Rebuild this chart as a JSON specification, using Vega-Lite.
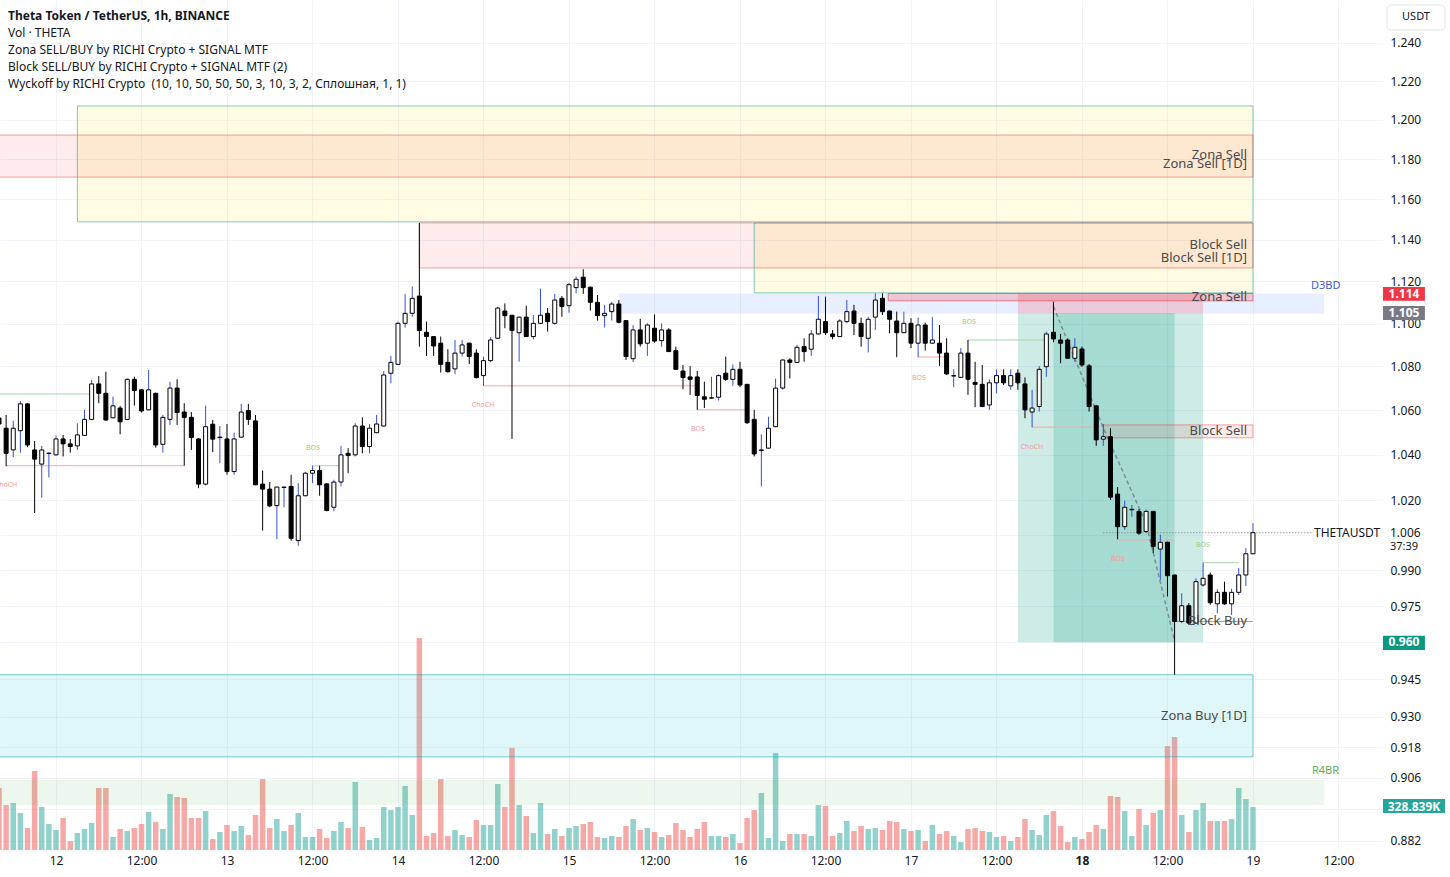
{
  "$schema": "https://vega.github.io/schema/vega-lite/v6.json",
  "width": 1383,
  "height": 850,
  "autosize": {"type": "none"},
  "padding": {"left": 0, "top": 0, "right": 67, "bottom": 27},
  "background": "#ffffff",
  "config": {"font": "Noto Sans", "view": {"stroke": null}, "axis": {"labelFont": "Noto Sans"}},
  "datasets": {
    "candles": [
      {"t":"2024-01-11T16:00Z","o":1.0565,"hi":1.0580,"lo":1.0520,"c":1.0538,"v":474100},
      {"t":"2024-01-11T17:00Z","o":1.0519,"hi":1.0579,"lo":1.0349,"c":1.0407,"v":344100},
      {"t":"2024-01-11T18:00Z","o":1.0422,"hi":1.0553,"lo":1.0390,"c":1.0519,"v":359400},
      {"t":"2024-01-11T19:00Z","o":1.0508,"hi":1.0642,"lo":1.0410,"c":1.0629,"v":282900},
      {"t":"2024-01-11T20:00Z","o":1.0629,"hi":1.0632,"lo":1.0434,"c":1.0444,"v":168200},
      {"t":"2024-01-11T21:00Z","o":1.0422,"hi":1.0462,"lo":1.0145,"c":1.0381,"v":604100},
      {"t":"2024-01-11T22:00Z","o":1.0359,"hi":1.0440,"lo":1.0212,"c":1.0422,"v":328800},
      {"t":"2024-01-11T23:00Z","o":1.0406,"hi":1.0410,"lo":1.0300,"c":1.0408,"v":198800},
      {"t":"2024-01-12T00:00Z","o":1.0400,"hi":1.0486,"lo":1.0397,"c":1.0471,"v":152900},
      {"t":"2024-01-12T01:00Z","o":1.0471,"hi":1.0489,"lo":1.0393,"c":1.0449,"v":244700},
      {"t":"2024-01-12T02:00Z","o":1.0449,"hi":1.0470,"lo":1.0410,"c":1.0437,"v":68800},
      {"t":"2024-01-12T03:00Z","o":1.0440,"hi":1.0541,"lo":1.0422,"c":1.0489,"v":130000},
      {"t":"2024-01-12T04:00Z","o":1.0487,"hi":1.0602,"lo":1.0485,"c":1.0559,"v":160600},
      {"t":"2024-01-12T05:00Z","o":1.0559,"hi":1.0738,"lo":1.0555,"c":1.0720,"v":206500},
      {"t":"2024-01-12T06:00Z","o":1.0720,"hi":1.0756,"lo":1.0632,"c":1.0677,"v":474100},
      {"t":"2024-01-12T07:00Z","o":1.0677,"hi":1.0776,"lo":1.0553,"c":1.0556,"v":474100},
      {"t":"2024-01-12T08:00Z","o":1.0566,"hi":1.0662,"lo":1.0563,"c":1.0620,"v":99400},
      {"t":"2024-01-12T09:00Z","o":1.0610,"hi":1.0620,"lo":1.0492,"c":1.0548,"v":160600},
      {"t":"2024-01-12T10:00Z","o":1.0559,"hi":1.0745,"lo":1.0555,"c":1.0741,"v":145300},
      {"t":"2024-01-12T11:00Z","o":1.0741,"hi":1.0753,"lo":1.0621,"c":1.0690,"v":168200},
      {"t":"2024-01-12T12:00Z","o":1.0693,"hi":1.0695,"lo":1.0590,"c":1.0597,"v":198800},
      {"t":"2024-01-12T13:00Z","o":1.0602,"hi":1.0784,"lo":1.0600,"c":1.0693,"v":290600},
      {"t":"2024-01-12T14:00Z","o":1.0677,"hi":1.0680,"lo":1.0432,"c":1.0444,"v":214100},
      {"t":"2024-01-12T15:00Z","o":1.0447,"hi":1.0579,"lo":1.0410,"c":1.0568,"v":160600},
      {"t":"2024-01-12T16:00Z","o":1.0559,"hi":1.0730,"lo":1.0534,"c":1.0701,"v":428200},
      {"t":"2024-01-12T17:00Z","o":1.0701,"hi":1.0741,"lo":1.0534,"c":1.0590,"v":405300},
      {"t":"2024-01-12T18:00Z","o":1.0592,"hi":1.0632,"lo":1.0352,"c":1.0568,"v":397600},
      {"t":"2024-01-12T19:00Z","o":1.0568,"hi":1.0592,"lo":1.0422,"c":1.0477,"v":244700},
      {"t":"2024-01-12T20:00Z","o":1.0471,"hi":1.0475,"lo":1.0253,"c":1.0271,"v":244700},
      {"t":"2024-01-12T21:00Z","o":1.0271,"hi":1.0621,"lo":1.0265,"c":1.0526,"v":298200},
      {"t":"2024-01-12T22:00Z","o":1.0537,"hi":1.0556,"lo":1.0412,"c":1.0470,"v":84100},
      {"t":"2024-01-12T23:00Z","o":1.0477,"hi":1.0529,"lo":1.0363,"c":1.0479,"v":137600},
      {"t":"2024-01-13T00:00Z","o":1.0471,"hi":1.0538,"lo":1.0312,"c":1.0326,"v":191200},
      {"t":"2024-01-13T01:00Z","o":1.0326,"hi":1.0499,"lo":1.0312,"c":1.0471,"v":145300},
      {"t":"2024-01-13T02:00Z","o":1.0479,"hi":1.0629,"lo":1.0477,"c":1.0592,"v":183500},
      {"t":"2024-01-13T03:00Z","o":1.0599,"hi":1.0629,"lo":1.0534,"c":1.0559,"v":114700},
      {"t":"2024-01-13T04:00Z","o":1.0552,"hi":1.0579,"lo":1.0266,"c":1.0268,"v":267600},
      {"t":"2024-01-13T05:00Z","o":1.0271,"hi":1.0331,"lo":1.0069,"c":1.0249,"v":542900},
      {"t":"2024-01-13T06:00Z","o":1.0249,"hi":1.0280,"lo":1.0170,"c":1.0176,"v":168200},
      {"t":"2024-01-13T07:00Z","o":1.0177,"hi":1.0260,"lo":1.0032,"c":1.0258,"v":237100},
      {"t":"2024-01-13T08:00Z","o":1.0256,"hi":1.0260,"lo":1.0170,"c":1.0258,"v":145300},
      {"t":"2024-01-13T09:00Z","o":1.0261,"hi":1.0312,"lo":1.0026,"c":1.0036,"v":191200},
      {"t":"2024-01-13T10:00Z","o":1.0026,"hi":1.0275,"lo":1.0004,"c":1.0220,"v":282900},
      {"t":"2024-01-13T11:00Z","o":1.0220,"hi":1.0326,"lo":1.0218,"c":1.0319,"v":99400},
      {"t":"2024-01-13T12:00Z","o":1.0319,"hi":1.0352,"lo":1.0275,"c":1.0331,"v":99400},
      {"t":"2024-01-13T13:00Z","o":1.0331,"hi":1.0352,"lo":1.0220,"c":1.0268,"v":160600},
      {"t":"2024-01-13T14:00Z","o":1.0272,"hi":1.0275,"lo":1.0152,"c":1.0156,"v":91800},
      {"t":"2024-01-13T15:00Z","o":1.0170,"hi":1.0290,"lo":1.0152,"c":1.0280,"v":145300},
      {"t":"2024-01-13T16:00Z","o":1.0280,"hi":1.0440,"lo":1.0261,"c":1.0400,"v":214100},
      {"t":"2024-01-13T17:00Z","o":1.0407,"hi":1.0430,"lo":1.0319,"c":1.0397,"v":168200},
      {"t":"2024-01-13T18:00Z","o":1.0400,"hi":1.0541,"lo":1.0393,"c":1.0529,"v":520000},
      {"t":"2024-01-13T19:00Z","o":1.0529,"hi":1.0568,"lo":1.0407,"c":1.0437,"v":175900},
      {"t":"2024-01-13T20:00Z","o":1.0437,"hi":1.0538,"lo":1.0407,"c":1.0519,"v":76500},
      {"t":"2024-01-13T21:00Z","o":1.0499,"hi":1.0579,"lo":1.0497,"c":1.0538,"v":91800},
      {"t":"2024-01-13T22:00Z","o":1.0529,"hi":1.0779,"lo":1.0526,"c":1.0761,"v":328800},
      {"t":"2024-01-13T23:00Z","o":1.0769,"hi":1.0849,"lo":1.0723,"c":1.0819,"v":305900},
      {"t":"2024-01-14T00:00Z","o":1.0810,"hi":1.1009,"lo":1.0807,"c":1.1001,"v":328800},
      {"t":"2024-01-14T01:00Z","o":1.1001,"hi":1.1140,"lo":1.0981,"c":1.1048,"v":489400},
      {"t":"2024-01-14T02:00Z","o":1.1048,"hi":1.1175,"lo":1.1032,"c":1.1119,"v":267600},
      {"t":"2024-01-14T03:00Z","o":1.1130,"hi":1.1483,"lo":1.0892,"c":1.0967,"v":1621200},
      {"t":"2024-01-14T04:00Z","o":1.0959,"hi":1.1009,"lo":1.0849,"c":1.0939,"v":107100},
      {"t":"2024-01-14T05:00Z","o":1.0939,"hi":1.0940,"lo":1.0849,"c":1.0895,"v":130000},
      {"t":"2024-01-14T06:00Z","o":1.0908,"hi":1.0939,"lo":1.0772,"c":1.0810,"v":542900},
      {"t":"2024-01-14T07:00Z","o":1.0819,"hi":1.0880,"lo":1.0772,"c":1.0776,"v":107100},
      {"t":"2024-01-14T08:00Z","o":1.0789,"hi":1.0923,"lo":1.0764,"c":1.0862,"v":152900},
      {"t":"2024-01-14T09:00Z","o":1.0862,"hi":1.0923,"lo":1.0846,"c":1.0900,"v":114700},
      {"t":"2024-01-14T10:00Z","o":1.0908,"hi":1.0910,"lo":1.0811,"c":1.0846,"v":99400},
      {"t":"2024-01-14T11:00Z","o":1.0862,"hi":1.0880,"lo":1.0745,"c":1.0749,"v":229400},
      {"t":"2024-01-14T12:00Z","o":1.0758,"hi":1.0846,"lo":1.0711,"c":1.0827,"v":191200},
      {"t":"2024-01-14T13:00Z","o":1.0827,"hi":1.0936,"lo":1.0820,"c":1.0923,"v":191200},
      {"t":"2024-01-14T14:00Z","o":1.0931,"hi":1.1078,"lo":1.0928,"c":1.1073,"v":504700},
      {"t":"2024-01-14T15:00Z","o":1.1059,"hi":1.1095,"lo":1.0978,"c":1.1037,"v":328800},
      {"t":"2024-01-14T16:00Z","o":1.1039,"hi":1.1040,"lo":1.0471,"c":1.0967,"v":780000},
      {"t":"2024-01-14T17:00Z","o":1.0957,"hi":1.1032,"lo":1.0822,"c":1.1030,"v":344100},
      {"t":"2024-01-14T18:00Z","o":1.1030,"hi":1.1084,"lo":1.0936,"c":1.0939,"v":260000},
      {"t":"2024-01-14T19:00Z","o":1.0939,"hi":1.1040,"lo":1.0926,"c":1.1001,"v":130000},
      {"t":"2024-01-14T20:00Z","o":1.1001,"hi":1.1165,"lo":1.1000,"c":1.1039,"v":359400},
      {"t":"2024-01-14T21:00Z","o":1.1048,"hi":1.1073,"lo":1.0962,"c":1.1009,"v":122400},
      {"t":"2024-01-14T22:00Z","o":1.1001,"hi":1.1140,"lo":1.0995,"c":1.1111,"v":160600},
      {"t":"2024-01-14T23:00Z","o":1.1119,"hi":1.1130,"lo":1.1032,"c":1.1080,"v":107100},
      {"t":"2024-01-15T00:00Z","o":1.1084,"hi":1.1193,"lo":1.1051,"c":1.1184,"v":168200},
      {"t":"2024-01-15T01:00Z","o":1.1170,"hi":1.1223,"lo":1.1143,"c":1.1210,"v":183500},
      {"t":"2024-01-15T02:00Z","o":1.1220,"hi":1.1258,"lo":1.1140,"c":1.1170,"v":198800},
      {"t":"2024-01-15T03:00Z","o":1.1172,"hi":1.1175,"lo":1.1061,"c":1.1100,"v":214100},
      {"t":"2024-01-15T04:00Z","o":1.1100,"hi":1.1135,"lo":1.1014,"c":1.1037,"v":99400},
      {"t":"2024-01-15T05:00Z","o":1.1037,"hi":1.1088,"lo":1.0981,"c":1.1048,"v":91800},
      {"t":"2024-01-15T06:00Z","o":1.1056,"hi":1.1103,"lo":1.1014,"c":1.1092,"v":107100},
      {"t":"2024-01-15T07:00Z","o":1.1092,"hi":1.1111,"lo":1.1001,"c":1.1006,"v":99400},
      {"t":"2024-01-15T08:00Z","o":1.1014,"hi":1.1014,"lo":1.0830,"c":1.0846,"v":183500},
      {"t":"2024-01-15T09:00Z","o":1.0836,"hi":1.0992,"lo":1.0820,"c":1.0970,"v":237100},
      {"t":"2024-01-15T10:00Z","o":1.0970,"hi":1.1022,"lo":1.0892,"c":1.0905,"v":152900},
      {"t":"2024-01-15T11:00Z","o":1.0908,"hi":1.1001,"lo":1.0849,"c":1.0993,"v":168200},
      {"t":"2024-01-15T12:00Z","o":1.0978,"hi":1.1043,"lo":1.0910,"c":1.0918,"v":137600},
      {"t":"2024-01-15T13:00Z","o":1.0920,"hi":1.1001,"lo":1.0892,"c":1.0970,"v":99400},
      {"t":"2024-01-15T14:00Z","o":1.0970,"hi":1.0978,"lo":1.0867,"c":1.0869,"v":114700},
      {"t":"2024-01-15T15:00Z","o":1.0874,"hi":1.0892,"lo":1.0784,"c":1.0787,"v":206500},
      {"t":"2024-01-15T16:00Z","o":1.0779,"hi":1.0807,"lo":1.0696,"c":1.0749,"v":152900},
      {"t":"2024-01-15T17:00Z","o":1.0752,"hi":1.0802,"lo":1.0670,"c":1.0741,"v":99400},
      {"t":"2024-01-15T18:00Z","o":1.0752,"hi":1.0779,"lo":1.0602,"c":1.0667,"v":160600},
      {"t":"2024-01-15T19:00Z","o":1.0661,"hi":1.0730,"lo":1.0610,"c":1.0650,"v":214100},
      {"t":"2024-01-15T20:00Z","o":1.0655,"hi":1.0753,"lo":1.0653,"c":1.0657,"v":107100},
      {"t":"2024-01-15T21:00Z","o":1.0659,"hi":1.0764,"lo":1.0644,"c":1.0758,"v":107100},
      {"t":"2024-01-15T22:00Z","o":1.0769,"hi":1.0846,"lo":1.0734,"c":1.0741,"v":99400},
      {"t":"2024-01-15T23:00Z","o":1.0741,"hi":1.0810,"lo":1.0711,"c":1.0787,"v":122400},
      {"t":"2024-01-16T00:00Z","o":1.0787,"hi":1.0822,"lo":1.0705,"c":1.0715,"v":53500},
      {"t":"2024-01-16T01:00Z","o":1.0718,"hi":1.0720,"lo":1.0538,"c":1.0544,"v":244700},
      {"t":"2024-01-16T02:00Z","o":1.0559,"hi":1.0602,"lo":1.0393,"c":1.0404,"v":305900},
      {"t":"2024-01-16T03:00Z","o":1.0420,"hi":1.0492,"lo":1.0261,"c":1.0422,"v":435900},
      {"t":"2024-01-16T04:00Z","o":1.0430,"hi":1.0571,"lo":1.0428,"c":1.0519,"v":91800},
      {"t":"2024-01-16T05:00Z","o":1.0526,"hi":1.0745,"lo":1.0524,"c":1.0701,"v":741800},
      {"t":"2024-01-16T06:00Z","o":1.0701,"hi":1.0833,"lo":1.0693,"c":1.0830,"v":68800},
      {"t":"2024-01-16T07:00Z","o":1.0830,"hi":1.0838,"lo":1.0745,"c":1.0819,"v":122400},
      {"t":"2024-01-16T08:00Z","o":1.0819,"hi":1.0900,"lo":1.0817,"c":1.0889,"v":122400},
      {"t":"2024-01-16T09:00Z","o":1.0892,"hi":1.0931,"lo":1.0822,"c":1.0869,"v":122400},
      {"t":"2024-01-16T10:00Z","o":1.0880,"hi":1.0970,"lo":1.0849,"c":1.0951,"v":107100},
      {"t":"2024-01-16T11:00Z","o":1.0951,"hi":1.1130,"lo":1.0948,"c":1.1020,"v":344100},
      {"t":"2024-01-16T12:00Z","o":1.1009,"hi":1.1127,"lo":1.0946,"c":1.0957,"v":336500},
      {"t":"2024-01-16T13:00Z","o":1.0951,"hi":1.0970,"lo":1.0926,"c":1.0939,"v":107100},
      {"t":"2024-01-16T14:00Z","o":1.0939,"hi":1.1020,"lo":1.0937,"c":1.1012,"v":130000},
      {"t":"2024-01-16T15:00Z","o":1.1009,"hi":1.1111,"lo":1.1001,"c":1.1056,"v":221800},
      {"t":"2024-01-16T16:00Z","o":1.1059,"hi":1.1088,"lo":1.0946,"c":1.1001,"v":145300},
      {"t":"2024-01-16T17:00Z","o":1.1001,"hi":1.1028,"lo":1.0892,"c":1.0939,"v":183500},
      {"t":"2024-01-16T18:00Z","o":1.0931,"hi":1.1032,"lo":1.0865,"c":1.1020,"v":160600},
      {"t":"2024-01-16T19:00Z","o":1.1030,"hi":1.1143,"lo":1.0970,"c":1.1111,"v":168200},
      {"t":"2024-01-16T20:00Z","o":1.1119,"hi":1.1143,"lo":1.1040,"c":1.1056,"v":152900},
      {"t":"2024-01-16T21:00Z","o":1.1059,"hi":1.1060,"lo":1.0954,"c":1.1020,"v":221800},
      {"t":"2024-01-16T22:00Z","o":1.1012,"hi":1.1056,"lo":1.0843,"c":1.0957,"v":214100},
      {"t":"2024-01-16T23:00Z","o":1.0957,"hi":1.1056,"lo":1.0955,"c":1.1001,"v":160600},
      {"t":"2024-01-17T00:00Z","o":1.1001,"hi":1.1025,"lo":1.0885,"c":1.0908,"v":145300},
      {"t":"2024-01-17T01:00Z","o":1.0908,"hi":1.1028,"lo":1.0843,"c":1.0993,"v":152900},
      {"t":"2024-01-17T02:00Z","o":1.0993,"hi":1.1004,"lo":1.0874,"c":1.0908,"v":68800},
      {"t":"2024-01-17T03:00Z","o":1.0908,"hi":1.1030,"lo":1.0906,"c":1.0923,"v":191200},
      {"t":"2024-01-17T04:00Z","o":1.0908,"hi":1.0993,"lo":1.0802,"c":1.0862,"v":122400},
      {"t":"2024-01-17T05:00Z","o":1.0862,"hi":1.0931,"lo":1.0761,"c":1.0766,"v":145300},
      {"t":"2024-01-17T06:00Z","o":1.0756,"hi":1.0787,"lo":1.0705,"c":1.0758,"v":107100},
      {"t":"2024-01-17T07:00Z","o":1.0750,"hi":1.0885,"lo":1.0748,"c":1.0862,"v":61200},
      {"t":"2024-01-17T08:00Z","o":1.0862,"hi":1.0923,"lo":1.0670,"c":1.0741,"v":160600},
      {"t":"2024-01-17T09:00Z","o":1.0727,"hi":1.0822,"lo":1.0614,"c":1.0718,"v":168200},
      {"t":"2024-01-17T10:00Z","o":1.0718,"hi":1.0807,"lo":1.0614,"c":1.0617,"v":145300},
      {"t":"2024-01-17T11:00Z","o":1.0624,"hi":1.0741,"lo":1.0602,"c":1.0725,"v":137600},
      {"t":"2024-01-17T12:00Z","o":1.0725,"hi":1.0787,"lo":1.0677,"c":1.0758,"v":99400},
      {"t":"2024-01-17T13:00Z","o":1.0758,"hi":1.0787,"lo":1.0715,"c":1.0725,"v":107100},
      {"t":"2024-01-17T14:00Z","o":1.0711,"hi":1.0787,"lo":1.0693,"c":1.0758,"v":68800},
      {"t":"2024-01-17T15:00Z","o":1.0769,"hi":1.0787,"lo":1.0693,"c":1.0725,"v":99400},
      {"t":"2024-01-17T16:00Z","o":1.0720,"hi":1.0750,"lo":1.0564,"c":1.0602,"v":237100},
      {"t":"2024-01-17T17:00Z","o":1.0592,"hi":1.0693,"lo":1.0523,"c":1.0610,"v":152900},
      {"t":"2024-01-17T18:00Z","o":1.0617,"hi":1.0802,"lo":1.0594,"c":1.0787,"v":114700},
      {"t":"2024-01-17T19:00Z","o":1.0799,"hi":1.0962,"lo":1.0753,"c":1.0951,"v":267600},
      {"t":"2024-01-17T20:00Z","o":1.0959,"hi":1.1103,"lo":1.0912,"c":1.0928,"v":298200},
      {"t":"2024-01-17T21:00Z","o":1.0923,"hi":1.0951,"lo":1.0815,"c":1.0908,"v":183500},
      {"t":"2024-01-17T22:00Z","o":1.0923,"hi":1.0931,"lo":1.0835,"c":1.0838,"v":61200},
      {"t":"2024-01-17T23:00Z","o":1.0838,"hi":1.0931,"lo":1.0822,"c":1.0889,"v":99400},
      {"t":"2024-01-18T00:00Z","o":1.0881,"hi":1.0892,"lo":1.0799,"c":1.0807,"v":84100},
      {"t":"2024-01-18T01:00Z","o":1.0803,"hi":1.0811,"lo":1.0594,"c":1.0617,"v":137600},
      {"t":"2024-01-18T02:00Z","o":1.0620,"hi":1.0622,"lo":1.0440,"c":1.0467,"v":191200},
      {"t":"2024-01-18T03:00Z","o":1.0470,"hi":1.0538,"lo":1.0440,"c":1.0481,"v":160600},
      {"t":"2024-01-18T04:00Z","o":1.0481,"hi":1.0519,"lo":1.0202,"c":1.0214,"v":412900},
      {"t":"2024-01-18T05:00Z","o":1.0227,"hi":1.0258,"lo":1.0032,"c":1.0086,"v":405300},
      {"t":"2024-01-18T06:00Z","o":1.0086,"hi":1.0199,"lo":1.0072,"c":1.0170,"v":298200},
      {"t":"2024-01-18T07:00Z","o":1.0159,"hi":1.0180,"lo":1.0129,"c":1.0161,"v":107100},
      {"t":"2024-01-18T08:00Z","o":1.0152,"hi":1.0162,"lo":1.0051,"c":1.0058,"v":313500},
      {"t":"2024-01-18T09:00Z","o":1.0065,"hi":1.0160,"lo":1.0058,"c":1.0152,"v":191200},
      {"t":"2024-01-18T10:00Z","o":1.0152,"hi":1.0153,"lo":0.9973,"c":1.0001,"v":282900},
      {"t":"2024-01-18T11:00Z","o":0.9990,"hi":1.0051,"lo":0.9859,"c":1.0019,"v":305900},
      {"t":"2024-01-18T12:00Z","o":1.0019,"hi":1.0022,"lo":0.9790,"c":0.9877,"v":795300},
      {"t":"2024-01-18T13:00Z","o":0.9880,"hi":0.9881,"lo":0.9468,"c":0.9686,"v":864100},
      {"t":"2024-01-18T14:00Z","o":0.9686,"hi":0.9803,"lo":0.9679,"c":0.9751,"v":267600},
      {"t":"2024-01-18T15:00Z","o":0.9751,"hi":0.9762,"lo":0.9672,"c":0.9679,"v":137600},
      {"t":"2024-01-18T16:00Z","o":0.9679,"hi":0.9866,"lo":0.9677,"c":0.9852,"v":305900},
      {"t":"2024-01-18T17:00Z","o":0.9838,"hi":0.9933,"lo":0.9831,"c":0.9866,"v":359400},
      {"t":"2024-01-18T18:00Z","o":0.9880,"hi":0.9890,"lo":0.9755,"c":0.9764,"v":221800},
      {"t":"2024-01-18T19:00Z","o":0.9759,"hi":0.9820,"lo":0.9720,"c":0.9807,"v":221800},
      {"t":"2024-01-18T20:00Z","o":0.9807,"hi":0.9852,"lo":0.9755,"c":0.9759,"v":221800},
      {"t":"2024-01-18T21:00Z","o":0.9759,"hi":0.9822,"lo":0.9713,"c":0.9807,"v":237100},
      {"t":"2024-01-18T22:00Z","o":0.9807,"hi":0.9909,"lo":0.9796,"c":0.9880,"v":474100},
      {"t":"2024-01-18T23:00Z","o":0.9880,"hi":0.9994,"lo":0.9834,"c":0.9970,"v":390000},
      {"t":"2024-01-19T00:00Z","o":0.9970,"hi":1.0101,"lo":0.9968,"c":1.0060,"v":328839}
    ],
    "zones": [
      {"k":"zbuy","t1":"2024-01-11T08:00Z","t2":"2024-01-19T00:00Z","p1":0.91415,"p2":0.9468},
      {"k":"r4br","t1":"2024-01-11T08:00Z","t2":"2024-01-19T10:00Z","p1":0.8956,"p2":0.9052},
      {"k":"yel","t1":"2024-01-12T03:00Z","t2":"2024-01-19T00:00Z","p1":1.1488,"p2":1.2071},
      {"k":"yel","t1":"2024-01-16T02:00Z","t2":"2024-01-19T00:00Z","p1":1.1145,"p2":1.1483},
      {"k":"pink","t1":"2024-01-11T08:00Z","t2":"2024-01-19T00:00Z","p1":1.1710,"p2":1.1922},
      {"k":"pink","t1":"2024-01-14T03:00Z","t2":"2024-01-19T00:00Z","p1":1.1264,"p2":1.1483},
      {"k":"blue","t1":"2024-01-15T07:00Z","t2":"2024-01-19T10:00Z","p1":1.1046,"p2":1.1142},
      {"k":"stop","t1":"2024-01-17T15:00Z","t2":"2024-01-18T17:00Z","p1":1.105,"p2":1.114},
      {"k":"tgt","t1":"2024-01-17T15:00Z","t2":"2024-01-18T17:00Z","p1":0.960,"p2":1.105},
      {"k":"tgt","t1":"2024-01-17T20:00Z","t2":"2024-01-18T13:00Z","p1":0.960,"p2":1.105},
      {"k":"pink2","t1":"2024-01-16T20:48Z","t2":"2024-01-19T00:00Z","p1":1.1107,"p2":1.1142},
      {"k":"pink","t1":"2024-01-18T03:00Z","t2":"2024-01-19T00:00Z","p1":1.0476,"p2":1.0534}
    ],
    "levels": [
      {"k":"g","t1":"2024-01-11T08:00Z","t2":"2024-01-12T05:00Z","p":1.0674},
      {"k":"r","t1":"2024-01-11T17:00Z","t2":"2024-01-12T18:00Z","p":1.0352},
      {"k":"g","t1":"2024-01-13T12:00Z","t2":"2024-01-13T16:00Z","p":1.0352},
      {"k":"r","t1":"2024-01-14T12:00Z","t2":"2024-01-15T18:00Z","p":1.0711},
      {"k":"r","t1":"2024-01-15T18:00Z","t2":"2024-01-16T01:00Z","p":1.0602},
      {"k":"r","t1":"2024-01-17T01:00Z","t2":"2024-01-17T05:00Z","p":1.0844},
      {"k":"g","t1":"2024-01-17T08:00Z","t2":"2024-01-17T19:00Z","p":1.0923},
      {"k":"r","t1":"2024-01-17T17:00Z","t2":"2024-01-18T03:00Z","p":1.0524},
      {"k":"r","t1":"2024-01-18T05:00Z","t2":"2024-01-18T13:00Z","p":1.0029},
      {"k":"g","t1":"2024-01-18T17:00Z","t2":"2024-01-18T22:00Z","p":0.9932},
      {"k":"bb","t1":"2024-01-18T13:00Z","t2":"2024-01-19T00:00Z","p":0.9686}
    ]
  },
  "layer": [
    {
      "layer": [
        {
          "data": {"name": "candles"},
          "mark": {"type": "bar", "size": 5.5, "clip": true},
          "encoding": {
            "x": {
              "field": "t", "type": "temporal", "title": null,
              "scale": {"type": "utc", "nice": false, "padding": 0, "domain": [
                {"year": 2024, "month": 1, "date": 11, "hours": 16, "minutes": 8, "seconds": 24, "utc": true},
                {"year": 2024, "month": 1, "date": 19, "hours": 18, "minutes": 15, "utc": true}]},
              "axis": {
                "values": [
                  {"year": 2024, "month": 1, "date": 12, "hours": 0, "utc": true},
                  {"year": 2024, "month": 1, "date": 12, "hours": 12, "utc": true},
                  {"year": 2024, "month": 1, "date": 13, "hours": 0, "utc": true},
                  {"year": 2024, "month": 1, "date": 13, "hours": 12, "utc": true},
                  {"year": 2024, "month": 1, "date": 14, "hours": 0, "utc": true},
                  {"year": 2024, "month": 1, "date": 14, "hours": 12, "utc": true},
                  {"year": 2024, "month": 1, "date": 15, "hours": 0, "utc": true},
                  {"year": 2024, "month": 1, "date": 15, "hours": 12, "utc": true},
                  {"year": 2024, "month": 1, "date": 16, "hours": 0, "utc": true},
                  {"year": 2024, "month": 1, "date": 16, "hours": 12, "utc": true},
                  {"year": 2024, "month": 1, "date": 17, "hours": 0, "utc": true},
                  {"year": 2024, "month": 1, "date": 17, "hours": 12, "utc": true},
                  {"year": 2024, "month": 1, "date": 18, "hours": 0, "utc": true},
                  {"year": 2024, "month": 1, "date": 18, "hours": 12, "utc": true},
                  {"year": 2024, "month": 1, "date": 19, "hours": 0, "utc": true},
                  {"year": 2024, "month": 1, "date": 19, "hours": 12, "utc": true}],
                "labelExpr": "utchours(datum.value) == 0 ? '' + utcdate(datum.value) : '12:00'",
                "labelFontSize": 12, "labelColor": "#131722", "labelPadding": 5,
                "ticks": false, "tickSize": 0, "domain": false,
                "grid": true, "gridColor": "#f0f3fa", "labelFlush": false, "labelOverlap": false,
                "labelFontWeight": {"condition": {"test": "utcdate(datum.value) == 18 && utchours(datum.value) == 0", "value": "bold"}, "value": "normal"}
              }
            },
            "y": {"field": "v", "type": "quantitative", "title": null, "scale": {"domain": [0, 6500000], "nice": false, "zero": true, "padding": 0}, "axis": null},
            "color": {"condition": {"test": "datum.c >= datum.o", "value": "#26a69a"}, "value": "#ef5350"},
            "opacity": {"value": 0.5}
          }
        },
        {
          "data": {"values": [{"t1": "2024-01-19T18:15Z", "t2": "2024-01-20T02:57Z", "v1": 283000, "v2": 390000}]},
          "mark": {"type": "rect", "fill": "#26a69a", "clip": false},
          "encoding": {
            "x": {"field": "t1", "type": "temporal", "title": null},
            "x2": {"field": "t2"},
            "y": {"field": "v1", "type": "quantitative", "title": null},
            "y2": {"field": "v2"}
          }
        },
        {
          "data": {"values": [{"t": "2024-01-19T22:36Z", "v": 328839, "txt": "328.839K"}]},
          "mark": {"type": "text", "color": "#ffffff", "fontSize": 12, "fontWeight": "bold", "align": "center", "baseline": "middle", "clip": false},
          "encoding": {
            "x": {"field": "t", "type": "temporal", "title": null},
            "y": {"field": "v", "type": "quantitative", "title": null},
            "text": {"field": "txt"}
          }
        }
      ]
    },
    {
      "layer": [
        {
          "data": {"name": "zones"},
          "mark": {"type": "rect", "clip": true, "strokeWidth": 1},
          "encoding": {
            "x": {"field": "t1", "type": "temporal", "title": null},
            "x2": {"field": "t2"},
            "y": {
              "field": "p1", "type": "quantitative", "title": null,
              "scale": {"type": "log", "domain": [0.87852, 1.26298], "nice": false, "zero": false, "padding": 0},
              "axis": {
                "orient": "right",
                "values": [1.24, 1.22, 1.2, 1.18, 1.16, 1.14, 1.12, 1.1, 1.08, 1.06, 1.04, 1.02, 1.005, 0.99, 0.975, 0.96, 0.945, 0.93, 0.918, 0.906, 0.894, 0.882],
                "format": ".3f",
                "labelExpr": "(datum.value == 1.005 || datum.value == 0.96 || datum.value == 0.894) ? '' : datum.label",
                "labelFontSize": 12, "labelColor": "#131722", "labelPadding": 7,
                "ticks": false, "tickSize": 0, "domain": false,
                "grid": true, "gridColor": "#f0f3fa", "labelOverlap": false, "labelFlush": false,
                "labelAlign": "left", "labelBaseline": "middle"
              }
            },
            "y2": {"field": "p2"},
            "fill": {"field": "k", "type": "nominal", "legend": null, "scale": {
              "domain": ["zbuy", "r4br", "yel", "pink", "blue", "stop", "tgt", "pink2"],
              "range": ["rgba(0,188,212,0.12)", "rgba(76,175,80,0.1)", "rgba(255,235,59,0.14)", "rgba(242,54,69,0.1)", "rgba(41,98,255,0.1)", "rgba(242,54,69,0.2)", "rgba(8,153,129,0.2)", "rgba(242,54,69,0.22)"]}},
            "stroke": {"field": "k", "type": "nominal", "legend": null, "scale": {
              "domain": ["zbuy", "r4br", "yel", "pink", "blue", "stop", "tgt", "pink2"],
              "range": ["rgba(0,151,167,0.5)", "rgba(0,0,0,0)", "rgba(38,166,154,0.6)", "rgba(229,57,53,0.45)", "rgba(0,0,0,0)", "rgba(0,0,0,0)", "rgba(0,0,0,0)", "rgba(229,57,53,0.6)"]}}
          }
        },
        {
          "data": {"name": "levels"},
          "mark": {"type": "rule", "clip": true, "strokeWidth": 1},
          "encoding": {
            "x": {"field": "t1", "type": "temporal", "title": null},
            "x2": {"field": "t2"},
            "y": {"field": "p", "type": "quantitative", "title": null},
            "color": {"field": "k", "type": "nominal", "legend": null, "scale": {"domain": ["r", "g", "bb"], "range": ["#f4a6a6", "#a5d6a7", "#6fbf73"]}}
          }
        },
        {
          "data": {"values": [
            {"t": "2024-01-17T20:00Z", "p": 1.108},
            {"t": "2024-01-18T03:00Z", "p": 1.052},
            {"t": "2024-01-18T09:00Z", "p": 1.010},
            {"t": "2024-01-18T13:00Z", "p": 0.9605}]},
          "mark": {"type": "line", "strokeDash": [4, 3], "strokeWidth": 1.5, "color": "#6a6d78", "opacity": 0.7},
          "encoding": {
            "x": {"field": "t", "type": "temporal", "title": null},
            "y": {"field": "p", "type": "quantitative", "title": null}
          }
        },
        {
          "data": {"values": [{"t1": "2024-01-18T03:00Z", "t2": "2024-01-19T08:25Z", "p": 1.006}]},
          "mark": {"type": "rule", "strokeDash": [1, 2], "color": "#787b86", "strokeWidth": 1},
          "encoding": {
            "x": {"field": "t1", "type": "temporal", "title": null},
            "x2": {"field": "t2"},
            "y": {"field": "p", "type": "quantitative", "title": null}
          }
        },
        {
          "data": {"name": "candles"},
          "mark": {"type": "rule", "strokeWidth": 1, "clip": true},
          "encoding": {
            "x": {"field": "t", "type": "temporal", "title": null},
            "y": {"field": "lo", "type": "quantitative", "title": null},
            "y2": {"field": "hi"},
            "color": {"condition": {"test": "datum.c > datum.o", "value": "#3551d4"}, "value": "#000000"}
          }
        },
        {
          "data": {"name": "candles"},
          "mark": {"type": "bar", "size": 4, "stroke": "#000000", "strokeWidth": 1, "clip": true},
          "encoding": {
            "x": {"field": "t", "type": "temporal", "title": null},
            "y": {"field": "o", "type": "quantitative", "title": null},
            "y2": {"field": "c"},
            "fill": {"condition": {"test": "datum.c >= datum.o", "value": "#ffffff"}, "value": "#000000"}
          }
        },
        {
          "data": {"values": [
            {"t": "2024-01-11T16:59Z", "p": 1.0268, "txt": "ChoCH", "k": "r"},
            {"t": "2024-01-13T12:04Z", "p": 1.0431, "txt": "BOS", "k": "g"},
            {"t": "2024-01-14T11:56Z", "p": 1.0624, "txt": "ChoCH", "k": "r"},
            {"t": "2024-01-15T18:06Z", "p": 1.0516, "txt": "BOS", "k": "r"},
            {"t": "2024-01-17T01:07Z", "p": 1.0747, "txt": "BOS", "k": "r"},
            {"t": "2024-01-17T08:08Z", "p": 1.1008, "txt": "BOS", "k": "g"},
            {"t": "2024-01-17T16:59Z", "p": 1.0436, "txt": "ChoCH", "k": "r"},
            {"t": "2024-01-18T05:03Z", "p": 0.9948, "txt": "BOS", "k": "r"},
            {"t": "2024-01-18T16:59Z", "p": 1.0008, "txt": "BOS", "k": "g"}]},
          "mark": {"type": "text", "fontSize": 7, "align": "center", "baseline": "middle", "clip": true},
          "encoding": {
            "x": {"field": "t", "type": "temporal", "title": null},
            "y": {"field": "p", "type": "quantitative", "title": null},
            "text": {"field": "txt"},
            "color": {"condition": {"test": "datum.k == 'g'", "value": "#8fcf92"}, "value": "#f19a9a"}
          }
        },
        {
          "data": {"values": [
            {"txt": "Zona Sell", "p": 1.1821},
            {"txt": "Zona Sell [1D]", "p": 1.1776},
            {"txt": "Block Sell", "p": 1.1375},
            {"txt": "Block Sell [1D]", "p": 1.1312},
            {"txt": "Zona Sell", "p": 1.1126},
            {"txt": "Block Sell", "p": 1.0507},
            {"txt": "Block Buy", "p": 0.9688},
            {"txt": "Zona Buy [1D]", "p": 0.9303}]},
          "mark": {"type": "text", "align": "right", "baseline": "middle", "fontSize": 13, "color": "#4a4a4a"},
          "encoding": {
            "x": {"datum": {"year": 2024, "month": 1, "date": 18, "hours": 23, "minutes": 10, "utc": true}, "type": "temporal"},
            "y": {"field": "p", "type": "quantitative", "title": null},
            "text": {"field": "txt"}
          }
        },
        {
          "data": {"values": [{"txt": "D3BD", "p": 1.1178}]},
          "mark": {"type": "text", "align": "left", "baseline": "middle", "fontSize": 11, "color": "#3f5bd8"},
          "encoding": {
            "x": {"datum": {"year": 2024, "month": 1, "date": 19, "hours": 8, "minutes": 8, "utc": true}, "type": "temporal"},
            "y": {"field": "p", "type": "quantitative", "title": null},
            "text": {"field": "txt"}
          }
        },
        {
          "data": {"values": [{"txt": "R4BR", "p": 0.9087}]},
          "mark": {"type": "text", "align": "left", "baseline": "middle", "fontSize": 11, "color": "#5cae5c"},
          "encoding": {
            "x": {"datum": {"year": 2024, "month": 1, "date": 19, "hours": 8, "minutes": 17, "utc": true}, "type": "temporal"},
            "y": {"field": "p", "type": "quantitative", "title": null},
            "text": {"field": "txt"}
          }
        },
        {
          "data": {"values": [{"txt": "THETAUSDT", "p": 1.006}]},
          "mark": {"type": "text", "align": "left", "baseline": "middle", "fontSize": 12, "color": "#131722"},
          "encoding": {
            "x": {"datum": {"year": 2024, "month": 1, "date": 19, "hours": 8, "minutes": 34, "utc": true}, "type": "temporal"},
            "y": {"field": "p", "type": "quantitative", "title": null},
            "text": {"field": "txt"}
          }
        },
        {
          "data": {"values": [
            {"k": "stop", "t1": "2024-01-19T18:15Z", "t2": "2024-01-20T00:08Z", "p1": 1.1107, "p2": 1.1173, "pc": 1.114, "txt": "1.114"},
            {"k": "entry", "t1": "2024-01-19T18:15Z", "t2": "2024-01-20T00:08Z", "p1": 1.1017, "p2": 1.1083, "pc": 1.105, "txt": "1.105"},
            {"k": "target", "t1": "2024-01-19T18:15Z", "t2": "2024-01-20T00:08Z", "p1": 0.9569, "p2": 0.9627, "pc": 0.960, "txt": "0.960"}]},
          "layer": [
            {
              "mark": {"type": "rect", "clip": false},
              "encoding": {
                "x": {"field": "t1", "type": "temporal", "title": null},
                "x2": {"field": "t2"},
                "y": {"field": "p1", "type": "quantitative", "title": null},
                "y2": {"field": "p2"},
                "fill": {"condition": [{"test": "datum.k == 'stop'", "value": "#f23645"}, {"test": "datum.k == 'entry'", "value": "#787b86"}], "value": "#089981"}
              }
            },
            {
              "mark": {"type": "text", "color": "#ffffff", "fontSize": 12, "fontWeight": "bold", "align": "center", "baseline": "middle", "clip": false},
              "encoding": {
                "x": {"datum": {"year": 2024, "month": 1, "date": 19, "hours": 21, "minutes": 12, "utc": true}, "type": "temporal"},
                "y": {"field": "pc", "type": "quantitative", "title": null},
                "text": {"field": "txt"}
              }
            }
          ]
        },
        {
          "data": {"values": [{"p1": 1.2469, "p2": 1.26028, "pc": 1.25384, "txt": "USDT"}]},
          "layer": [
            {
              "mark": {"type": "rect", "fill": "#ffffff", "stroke": "#e0e3eb", "strokeWidth": 1, "cornerRadius": 4, "clip": false},
              "encoding": {
                "x": {"datum": {"year": 2024, "month": 1, "date": 19, "hours": 18, "minutes": 49, "utc": true}, "type": "temporal"},
                "x2": {"datum": {"year": 2024, "month": 1, "date": 20, "hours": 2, "minutes": 57, "utc": true}},
                "y": {"field": "p1", "type": "quantitative", "title": null},
                "y2": {"field": "p2"}
              }
            },
            {
              "mark": {"type": "text", "align": "center", "baseline": "middle", "fontSize": 11, "color": "#131722", "clip": false},
              "encoding": {
                "x": {"datum": {"year": 2024, "month": 1, "date": 19, "hours": 22, "minutes": 53, "utc": true}, "type": "temporal"},
                "y": {"field": "pc", "type": "quantitative", "title": null},
                "text": {"field": "txt"}
              }
            }
          ]
        },
        {
          "data": {"values": [{"txt": "1.006", "p": 1.006}]},
          "mark": {"type": "text", "align": "left", "baseline": "middle", "fontSize": 12, "color": "#131722", "clip": false},
          "encoding": {
            "x": {"datum": {"year": 2024, "month": 1, "date": 19, "hours": 19, "minutes": 14, "utc": true}, "type": "temporal"},
            "y": {"field": "p", "type": "quantitative", "title": null},
            "text": {"field": "txt"}
          }
        },
        {
          "data": {"values": [{"txt": "37:39", "p": 0.99992}]},
          "mark": {"type": "text", "align": "left", "baseline": "middle", "fontSize": 11, "color": "#131722", "clip": false},
          "encoding": {
            "x": {"datum": {"year": 2024, "month": 1, "date": 19, "hours": 19, "minutes": 14, "utc": true}, "type": "temporal"},
            "y": {"field": "p", "type": "quantitative", "title": null},
            "text": {"field": "txt"}
          }
        },
        {
          "data": {"values": [{"txt": "Theta Token / TetherUS, 1h, BINANCE", "p": 1.25438}]},
          "mark": {"type": "text", "align": "left", "baseline": "middle", "fontSize": 12, "fontWeight": "bold", "color": "#131722"},
          "encoding": {
            "x": {"datum": {"year": 2024, "month": 1, "date": 11, "hours": 17, "minutes": 16, "utc": true}, "type": "temporal"},
            "y": {"field": "p", "type": "quantitative", "title": null},
            "text": {"field": "txt"}
          }
        },
        {
          "data": {"values": [
            {"txt": "Vol · THETA", "p": 1.24531},
            {"txt": "Zona SELL/BUY by RICHI Crypto + SIGNAL MTF", "p": 1.23630},
            {"txt": "Block SELL/BUY by RICHI Crypto + SIGNAL MTF (2)", "p": 1.22736},
            {"txt": "Wyckoff by RICHI Crypto\u00a0 (10, 10, 50, 50, 50, 3, 10, 3, 2, Сплошная, 1, 1)", "p": 1.21848}]},
          "mark": {"type": "text", "align": "left", "baseline": "middle", "fontSize": 12, "color": "#131722"},
          "encoding": {
            "x": {"datum": {"year": 2024, "month": 1, "date": 11, "hours": 17, "minutes": 16, "utc": true}, "type": "temporal"},
            "y": {"field": "p", "type": "quantitative", "title": null},
            "text": {"field": "txt"}
          }
        }
      ]
    }
  ],
  "resolve": {"scale": {"y": "independent"}}
}
